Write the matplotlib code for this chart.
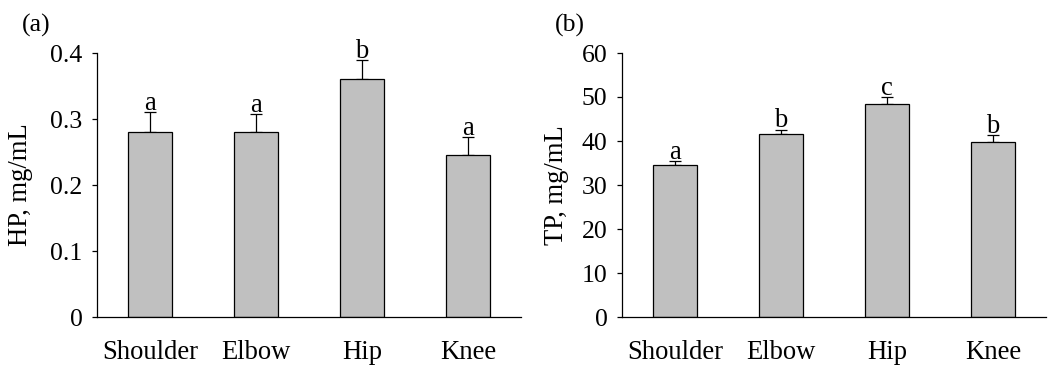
import matplotlib
matplotlib.use("Agg")
import matplotlib.pyplot as plt
import numpy as np

plt.rcParams['font.family'] = ['Liberation Serif', 'DejaVu Serif']

categories = ["Shoulder", "Elbow", "Hip", "Knee"]
hp_values = [0.28, 0.28, 0.36, 0.245]
hp_errors = [0.030, 0.027, 0.030, 0.027]
hp_letters = ["a", "a", "b", "a"]
tp_values = [34.5, 41.7, 48.5, 39.8]
tp_errors = [0.9, 0.9, 1.4, 1.5]
tp_letters = ["a", "b", "c", "b"]

W, H = 1048, 367
fig = plt.figure(figsize=(W / 100, H / 100), dpi=100)

def px_axes(l, r, t, b):
    return fig.add_axes([l / W, 1 - b / H, (r - l) / W, (b - t) / H])

ax1 = px_axes(97, 521, 53, 317)
ax2 = px_axes(622, 1046, 53, 317)

FS = 18.5
FSX = 19.2

def draw(ax, vals, errs, letters, ylim, yticks, yticklabels, ylabel, xlim):
    x = np.arange(len(categories))
    ax.bar(x, vals, width=0.41, color="#c0c0c0", edgecolor="black", linewidth=0.9, zorder=2)
    ax.errorbar(x, vals, yerr=[np.zeros(len(vals)), errs], fmt="none", ecolor="black",
                elinewidth=0.9, capsize=4.5, capthick=0.9, zorder=1)
    for xi, v, e, l in zip(x, vals, errs, letters):
        ax.annotate(l, (xi, v + e), xytext=(0, 1.5), textcoords="offset points",
                    ha="center", va="baseline", fontsize=FSX)
    ax.set_xlim(*xlim)
    ax.set_ylim(*ylim)
    ax.set_yticks(yticks)
    ax.set_yticklabels(yticklabels, fontsize=FS)
    ax.set_xticks(x)
    ax.set_xticklabels(categories, fontsize=FSX)
    ax.tick_params(axis="x", length=0, pad=16.5)
    ax.tick_params(axis="y", length=3.5, width=0.9, pad=7, direction="out")
    ax.spines["top"].set_visible(False)
    ax.spines["right"].set_visible(False)
    ax.spines["left"].set_linewidth(0.9)
    ax.spines["bottom"].set_linewidth(0.9)
    ax.set_ylabel(ylabel, fontsize=FSX)

draw(ax1, hp_values, hp_errors, hp_letters, (0, 0.4), [0, 0.1, 0.2, 0.3, 0.4],
     ["0", "0.1", "0.2", "0.3", "0.4"], "HP, mg/mL", (-0.5, 3.5))
draw(ax2, tp_values, tp_errors, tp_letters, (0, 60), [0, 10, 20, 30, 40, 50, 60],
     ["0", "10", "20", "30", "40", "50", "60"], "TP, mg/mL", (-0.5, 3.5))

ax1.yaxis.set_label_coords(-(97 - 33) / 424, 0.5)
ax2.yaxis.set_label_coords(-(622 - 569) / 424, 0.5)

fig.text(22 / W, 1 - 25 / H, "(a)", fontsize=FS, ha="left", va="center")
fig.text(555 / W, 1 - 25 / H, "(b)", fontsize=FS, ha="left", va="center")

fig.savefig("out.png", dpi=100)
